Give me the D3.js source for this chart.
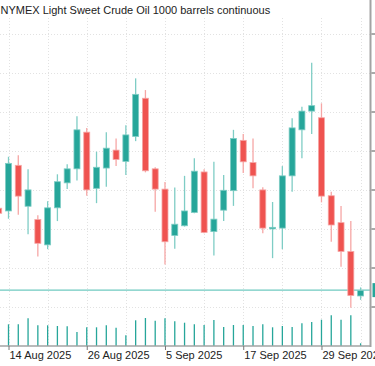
<!DOCTYPE html>
<html>
<head>
<meta charset="utf-8">
<script src="https://cdn.jsdelivr.net/npm/d3@7"></script>
<style>
  body { margin: 0; background: #fff; }
  svg { display: block; font-family: "Liberation Sans", Arial, sans-serif; }
</style>
</head>
<body>
<div id="chart"></div>
<script>
// daily bars, 13 Aug - 3 Oct 2025
var dates = ["2025-08-13","2025-08-14","2025-08-15","2025-08-18","2025-08-19","2025-08-20","2025-08-21","2025-08-22",
  "2025-08-25","2025-08-26","2025-08-27","2025-08-28","2025-08-29","2025-09-01","2025-09-02","2025-09-03","2025-09-04",
  "2025-09-05","2025-09-08","2025-09-09","2025-09-10","2025-09-11","2025-09-12","2025-09-15","2025-09-16","2025-09-17",
  "2025-09-18","2025-09-19","2025-09-22","2025-09-23","2025-09-24","2025-09-25","2025-09-26","2025-09-29","2025-09-30",
  "2025-10-01","2025-10-02","2025-10-03"];
var open  = [63.02,62.95,64.12,63.07,62.73,62.08,63.03,63.67,64.03,64.97,63.53,64.05,64.51,64.22,64.86,65.84,64.03,63.51,62.32,
  62.57,62.91,63.95,62.42,62.97,63.47,64.76,64.19,63.49,62.49,62.51,63.85,65.03,65.51,65.34,63.34,62.65,61.91,60.77];
var high  = [63.13,64.34,64.38,64.02,62.84,63.20,63.89,64.15,65.38,65.08,64.47,64.97,64.81,65.15,66.35,66.05,64.07,63.69,63.55,
  63.85,64.30,64.02,64.21,63.87,65.03,64.92,64.81,63.56,63.18,64.10,65.33,65.62,66.75,65.71,63.44,63.08,62.69,60.99];
var low   = [62.80,62.75,62.85,62.35,61.78,61.97,62.69,63.51,63.73,63.34,63.15,63.57,64.10,63.87,64.74,63.94,62.93,61.58,61.98,
  62.55,62.89,62.38,61.81,62.69,63.08,63.92,63.53,62.38,61.74,61.97,63.44,64.30,64.92,63.17,62.16,61.52,60.47,60.67];
var close = [62.89,64.17,63.33,63.49,62.12,63.03,63.70,64.03,65.03,63.49,64.07,64.56,64.27,64.90,65.94,63.98,63.51,62.16,62.61,
  62.95,63.97,62.40,62.74,63.48,64.81,64.21,63.85,62.51,62.53,63.85,65.08,65.51,65.65,63.33,62.59,61.91,60.78,60.91];
// volume, thousands
var volume = [210,217,217,277,207,207,200,197,140,187,187,207,183,107,257,280,253,277,247,
  233,217,210,260,190,210,210,200,217,187,200,190,227,240,263,307,263,307,27];

var lastPrice = 60.92;
var priceTicks = [60.5, 61.5, 62.5, 63.5, 64.5, 65.5, 66.5, 67.5];
var dateTicks = ["2025-08-14","2025-08-26","2025-09-05","2025-09-17","2025-09-29"];
var dateLabels = ["14 Aug 2025","26 Aug 2025","5 Sep 2025","17 Sep 2025","29 Sep 2025"];
var title = "NYMEX Light Sweet Crude Oil 1000 barrels continuous";

var svgWidth = 375;
var svgHeight = 366;
var axisX = 370.5;   // price axis line
var axisY = 346;     // time axis line

var up = "#26a69a", down = "#ef5350";
var upLight = "#7fcdc5", downLight = "#f6a6a5";

var data = dates.map(function(d, i) {
  return { date: d, o: open[i], h: high[i], l: low[i], c: close[i], v: volume[i] };
});

var svg = d3.select("#chart")
  .append("svg")
  .attr("width", svgWidth)
  .attr("height", svgHeight);

var x = d3.scalePoint()
  .domain(dates)
  .range([-1.28, 360.6]);

var y = d3.scaleLinear()
  .domain([60.5, 67.5])
  .range([306.5, 33.5]);

var yVol = d3.scaleLinear()
  .domain([0, 307])
  .range([axisY, 315.3]);

// grid
svg.append("g")
  .selectAll("line")
  .data(priceTicks)
  .enter()
  .append("line")
    .attr("x1", 0)
    .attr("x2", axisX)
    .attr("y1", function(d) { return Math.round(y(d)) + 0.5; })
    .attr("y2", function(d) { return Math.round(y(d)) + 0.5; })
    .attr("stroke", "#e2e2e2")
    .attr("stroke-dasharray", "1,2");

svg.append("g")
  .selectAll("line")
  .data(dates.filter(function(d, i) { return (i - 1) % 4 === 0; }))
  .enter()
  .append("line")
    .attr("x1", function(d) { return Math.round(x(d)) + 0.5; })
    .attr("x2", function(d) { return Math.round(x(d)) + 0.5; })
    .attr("y1", 18)
    .attr("y2", axisY)
    .attr("stroke", "#e2e2e2")
    .attr("stroke-dasharray", "1,2");

// volumes
svg.append("g")
  .selectAll("line")
  .data(data)
  .enter()
  .append("line")
    .attr("x1", function(d) { return x(d.date); })
    .attr("x2", function(d) { return x(d.date); })
    .attr("y1", axisY)
    .attr("y2", function(d) { return yVol(d.v); })
    .attr("stroke", up)
    .attr("stroke-width", 1.3);

// bid line
svg.append("line")
  .attr("x1", 0)
  .attr("x2", axisX)
  .attr("y1", y(lastPrice))
  .attr("y2", y(lastPrice))
  .attr("stroke", "#6fcac0")
  .attr("stroke-width", 1.2);

// candles
var candles = svg.append("g")
  .selectAll("g")
  .data(data)
  .enter()
  .append("g");

candles.append("line")
  .attr("x1", function(d) { return x(d.date); })
  .attr("x2", function(d) { return x(d.date); })
  .attr("y1", function(d) { return y(d.h); })
  .attr("y2", function(d) { return y(d.l); })
  .attr("stroke", function(d) { return d.c >= d.o ? upLight : downLight; })
  .attr("stroke-width", 1.3);

candles.append("rect")
  .attr("x", function(d) { return x(d.date) - 3; })
  .attr("width", 6)
  .attr("y", function(d) { return y(Math.max(d.o, d.c)); })
  .attr("height", function(d) { return Math.max(1, Math.abs(y(d.o) - y(d.c))); })
  .attr("fill", function(d) { return d.c >= d.o ? up : down; })
  .attr("stroke", function(d) { return d.c >= d.o ? upLight : downLight; })
  .attr("stroke-width", 0.8);

// price axis
svg.append("line")
  .attr("x1", axisX).attr("x2", axisX)
  .attr("y1", 0).attr("y2", axisY + 1)
  .attr("stroke", "#a3a3a3")
  .attr("stroke-width", 2);

svg.append("g")
  .attr("transform", "translate(" + (axisX + 1) + ",0)")
  .call(d3.axisRight(y).tickValues(priceTicks).tickSize(4).tickFormat(""))
  .call(function(g) { g.select(".domain").remove(); })
  .call(function(g) { g.selectAll(".tick line").attr("stroke", "#555"); });

svg.append("rect")
  .attr("x", axisX + 2)
  .attr("y", y(lastPrice) - 7)
  .attr("width", 10)
  .attr("height", 14)
  .attr("fill", up);

// time axis
svg.append("line")
  .attr("x1", 0).attr("x2", axisX)
  .attr("y1", axisY).attr("y2", axisY)
  .attr("stroke", "#a3a3a3")
  .attr("stroke-width", 1.5);

var xAxis = svg.append("g")
  .attr("transform", "translate(0," + axisY + ")")
  .call(d3.axisBottom(x).tickValues(dateTicks).tickSize(4)
    .tickFormat(function(d, i) { return dateLabels[i]; }));

xAxis.select(".domain").remove();
xAxis.selectAll(".tick line").attr("stroke", "#777");
xAxis.selectAll(".tick text")
  .attr("text-anchor", "start")
  .attr("x", 0.5)
  .attr("y", 5)
  .attr("dy", "0.71em")
  .style("font-size", "11px")
  .style("font-family", "Liberation Sans, Arial, sans-serif")
  .attr("fill", "#222");

svg.append("text")
  .attr("x", 0.5)
  .attr("y", 13.5)
  .style("font-size", "11px")
  .attr("fill", "#222")
  .text(title);
</script>
</body>
</html>
